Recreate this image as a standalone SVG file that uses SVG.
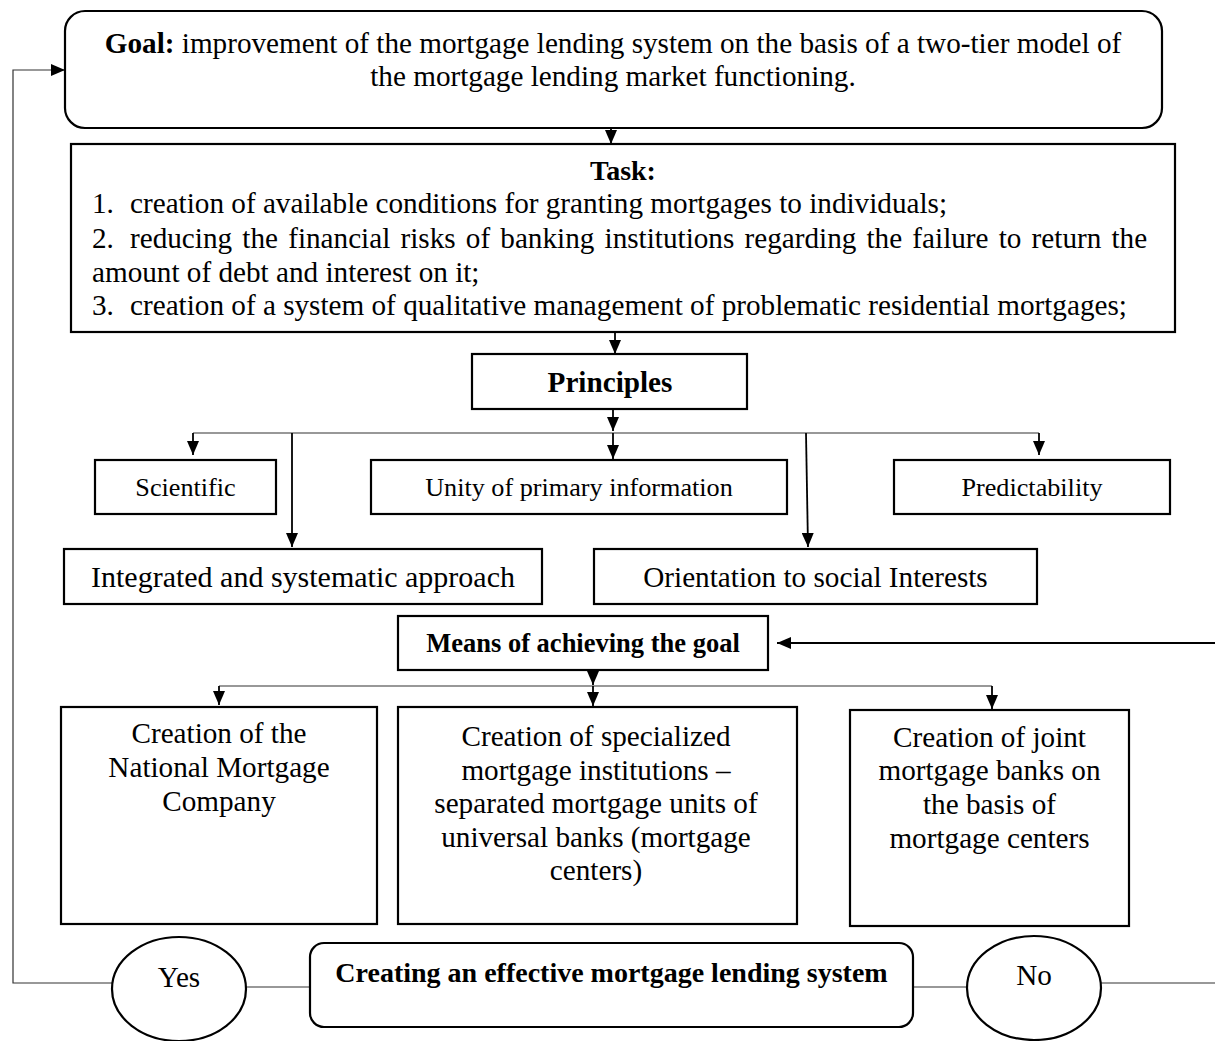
<svg xmlns="http://www.w3.org/2000/svg" width="1215" height="1041" viewBox="0 0 1215 1041">
<style>
  .box { fill: #fff; stroke: #000; stroke-width: 2.2; }
  .t { font-family: "Liberation Serif", "Times New Roman", serif; fill: #000; }
  .b29 { font-size: 29.2px; }
  .b26 { font-size: 26.2px; }
  .bold { font-weight: bold; }
  .c { text-anchor: middle; }
  .con { fill: none; stroke: #000; stroke-width: 1.8; }
  .thin { fill: none; stroke: #333; stroke-width: 1.2; }
</style>
<defs>
  <marker id="ah" viewBox="0 0 14 12" refX="14" refY="6" markerWidth="14" markerHeight="12" markerUnits="userSpaceOnUse" orient="auto">
    <path d="M0,0 L14,6 L0,12 z" fill="#000"/>
  </marker>
</defs>

<g id="connectors">
  <path class="thin" d="M112,983 H13 V70 H65" marker-end="url(#ah)"/>
  <path class="con" d="M611,128 V144" marker-end="url(#ah)"/>
  <path class="con" d="M615,332 V354" marker-end="url(#ah)"/>
  <path class="con" d="M613,409 V431" marker-end="url(#ah)"/>
  <path class="thin" d="M193,433 H1039"/>
  <path class="con" d="M193,433 V455" marker-end="url(#ah)"/>
  <path class="con" d="M613,433 V459" marker-end="url(#ah)"/>
  <path class="con" d="M292,433 V547" marker-end="url(#ah)"/>
  <path class="con" d="M806,433 L808,547" marker-end="url(#ah)"/>
  <path class="con" d="M1039,433 V455" marker-end="url(#ah)"/>
  <path class="con" d="M1215,643 H777" marker-end="url(#ah)"/>
  <path class="con" d="M593,670 V685" marker-end="url(#ah)"/>
  <path class="thin" d="M219,686 H992"/>
  <path class="con" d="M219,686 V705" marker-end="url(#ah)"/>
  <path class="con" d="M593,686 V706" marker-end="url(#ah)"/>
  <path class="con" d="M992,686 V709" marker-end="url(#ah)"/>
  <path class="thin" d="M246,987 H310"/>
  <path class="thin" d="M913,987 H967"/>
  <path class="thin" d="M1094,983 H1215"/>
</g>

<g id="goal">
  <rect class="box" x="65" y="11" width="1097" height="117" rx="20" ry="20"/>
  <text class="t b29 c" x="613" y="53"><tspan class="bold">Goal:</tspan> improvement of the mortgage lending system on the basis of a two-tier model of</text>
  <text class="t b29 c" x="613" y="86">the mortgage lending market functioning.</text>
</g>

<g id="task">
  <rect class="box" x="71" y="144" width="1104" height="188"/>
  <text class="t bold c" x="623" y="180" font-size="28px">Task:</text>
  <text class="t b29" x="92" y="213">1.</text>
  <text class="t b29" x="130" y="213">creation of available conditions for granting mortgages to individuals;</text>
  <text class="t b29" x="92" y="248">2.</text>
  <text class="t b29" x="130" y="248" word-spacing="2.9">reducing the financial risks of banking institutions regarding the failure to return the</text>
  <text class="t b29" x="92" y="282">amount of debt and interest on it;</text>
  <text class="t b29" x="92" y="315">3.</text>
  <text class="t b29" x="130" y="315">creation of a system of qualitative management of problematic residential mortgages;</text>
</g>

<g id="principles">
  <rect class="box" x="472" y="354" width="275" height="55"/>
  <text class="t b29 bold c" x="610" y="392">Principles</text>
</g>

<g id="scientific">
  <rect class="box" x="95" y="460" width="181" height="54"/>
  <text class="t b26 c" x="185.5" y="496">Scientific</text>
</g>

<g id="unity">
  <rect class="box" x="371" y="460" width="416" height="54"/>
  <text class="t b26 c" x="579" y="496">Unity of primary information</text>
</g>

<g id="predictability">
  <rect class="box" x="894" y="460" width="276" height="54"/>
  <text class="t b26 c" x="1032" y="496">Predictability</text>
</g>

<g id="integrated">
  <rect class="box" x="64" y="549" width="478" height="55"/>
  <text class="t c" x="303" y="587" font-size="30px">Integrated and systematic approach</text>
</g>

<g id="orientation">
  <rect class="box" x="594" y="549" width="443" height="55"/>
  <text class="t b29 c" x="815.5" y="587">Orientation to social Interests</text>
</g>

<g id="means">
  <rect class="box" x="398" y="616" width="370" height="54"/>
  <text class="t bold c" x="583" y="652" font-size="26.5px">Means of achieving the goal</text>
</g>

<g id="national">
  <rect class="box" x="61" y="707" width="316" height="217"/>
  <text class="t b29 c" x="219" y="743">Creation of the</text>
  <text class="t b29 c" x="219" y="777">National Mortgage</text>
  <text class="t b29 c" x="219" y="811">Company</text>
</g>

<g id="specialized">
  <rect class="box" x="398" y="707" width="399" height="217"/>
  <text class="t b29 c" x="596" y="746">Creation of specialized</text>
  <text class="t b29 c" x="596" y="780">mortgage institutions –</text>
  <text class="t b29 c" x="596" y="813">separated mortgage units of</text>
  <text class="t b29 c" x="596" y="847">universal banks (mortgage</text>
  <text class="t b29 c" x="596" y="880">centers)</text>
</g>

<g id="joint">
  <rect class="box" x="850" y="710" width="279" height="216"/>
  <text class="t b29 c" x="989.5" y="747">Creation of joint</text>
  <text class="t b29 c" x="989.5" y="780">mortgage banks on</text>
  <text class="t b29 c" x="989.5" y="814">the basis of</text>
  <text class="t b29 c" x="989.5" y="848">mortgage centers</text>
</g>

<g id="effective">
  <rect class="box" x="310" y="943" width="603" height="84" rx="14" ry="14"/>
  <text class="t bold c" x="611.5" y="982" font-size="28px">Creating an effective mortgage lending system</text>
</g>

<g id="yes">
  <ellipse class="box" cx="179" cy="989" rx="67" ry="52"/>
  <text class="t b29 c" x="179" y="987">Yes</text>
</g>

<g id="no">
  <ellipse class="box" cx="1034" cy="988" rx="67" ry="52"/>
  <text class="t b29 c" x="1034" y="985">No</text>
</g>
</svg>
